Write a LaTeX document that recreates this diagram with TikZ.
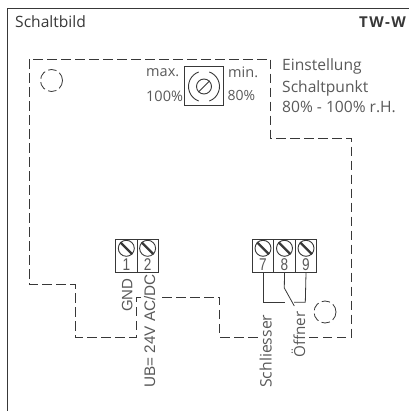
\documentclass[tikz,border=0pt]{standalone}
\usepackage{fontspec}
\setmainfont{Open Sans}
\newfontfamily\arialf{Liberation Sans}
\newfontfamily\twfont[LetterSpace=9]{Open Sans}
\definecolor{txt}{gray}{0.35}
\definecolor{ln}{gray}{0.22}
\tikzset{x=1pt,y=-1pt,
 dashline/.style={draw=ln,line width=0.8pt,dash pattern=on 9.5pt off 4.5pt},
 solidline/.style={draw=ln,line width=0.8pt},
 din/.style={font=\fontsize{15.6}{17}\selectfont,text=txt,inner sep=0pt,anchor=base west},
 rot/.style={font=\arialf\fontsize{15}{17}\selectfont,text=txt,inner sep=0pt,rotate=90,anchor=base west},
 rotb/.style={font=\fontsize{15.8}{17}\selectfont,text=txt,inner sep=0pt,rotate=90,anchor=base west},
 num/.style={font=\arialf\fontsize{17}{18}\selectfont,text=txt,inner sep=0pt,anchor=base,xscale=.8},
 screw/.style={draw=ln,line width=0.9pt,circle,minimum size=16pt,inner sep=0pt},
 cell/.style={draw=ln,line width=0.9pt,minimum width=21.3pt,minimum height=33pt,inner sep=0pt}}
\newcommand{\termcell}[4]{%
 \node[cell] (#1) at (#2,#3) {};
 \node[screw] (#1s) at (#2,#3-7.5) {};
 \draw[ln,line width=2.4pt] (#1s.north west) -- (#1s.south east);
 \node[num] (#1n) at (#2,#3+14.8) {#4};}
\begin{document}
\begin{tikzpicture}
\useasboundingbox (0,0) rectangle (409,411);
\draw[ln,line width=0.9pt] (7,411) -- (7,8.5) -- (409,8.5);
\node[din,text=ln] (title) at (15,27.5) {Schaltbild};
\node[din,font=\twfont\bfseries\fontsize{15}{17}\selectfont,anchor=base east,text=ln] (tw) at (406,27.7) {TW-W};
\coordinate (gndend) at (141,297.3);
\coordinate (ubstart) at (162,297.3);
\coordinate (schl) at (258,337);
\coordinate (oeff) at (308,337);
\draw[dashline] (gndend) -- (136.5,297.3) -- (136.5,337) -- (75,337) -- (75,284) -- (29,284) -- (29,59) -- (270.7,59) -- (270.7,138) -- (351.7,138) -- (351.7,337) -- (oeff);
\draw[dashline] (ubstart) -- (219.5,297.3) -- (219.5,337) -- (schl);
\node[circle,dashline,dash pattern=on 8.5pt off 3.5pt,minimum size=22pt,inner sep=0pt] (c1) at (51.5,80.5) {};
\node[circle,dashline,dash pattern=on 8.5pt off 3.5pt,minimum size=22pt,inner sep=0pt] (c2) at (325,312) {};
% potentiometer
\node[draw=ln,line width=0.9pt,minimum width=39pt,minimum height=38.5pt,inner sep=0pt] (pot) at (203.8,86) {};
\node[circle,draw=ln,line width=0.9pt,minimum size=15pt,inner sep=0pt] (knob) at (204,86.5) {};
\draw[ln,line width=0.9pt] (knob.south west) -- (knob.north east);
\draw[ln,line width=0.9pt] (knob.center) ++(-110:15.5) arc[start angle=-110,end angle=-250,radius=15.5];
\draw[ln,line width=0.9pt] (knob.center) ++(-70:15.5) arc[start angle=-70,end angle=70,radius=15.5];
\node[din,font=\fontsize{14.5}{16}\selectfont] (mx) at (146,77) {max.};
\node[din,font=\fontsize{14.5}{16}\selectfont] (pc1) at (146,101.5) {100\%};
\node[din,font=\fontsize{14.5}{16}\selectfont] (mn) at (228,77.5) {min.};
\node[din,font=\fontsize{14}{16}\selectfont] (pc2) at (227.5,101) {80\%};
\node[din] (e1) at (282,70.7) {Einstellung};
\node[din] (e2) at (282,92.3) {Schaltpunkt};
\node[din] (e3) at (282,112.3) {80\% - 100\% r.H.};
% terminals
\termcell{ta}{126.3}{255.8}{1}
\termcell{tb}{147.6}{255.8}{2}
\termcell{tc}{263}{255.8}{7}
\termcell{td}{284.5}{255.8}{8}
\termcell{te}{306}{255.8}{9}
\draw[solidline] (tc.south) -- (263,302.3) -- (285,302.3);
\draw[solidline] (te.south) -- (305.3,302.3) -- (294,302.3);
\draw[solidline] (td.south) -- (284.3,288) -- (294.3,306);
\node[rot] (gnd) at (132.3,312) {GND};
\node[rot,font=\arialf\fontsize{15.3}{17}\selectfont] (ub) at (155,388) {UB= 24V AC/DC};
\node[rotb] (sc) at (271.7,388) {Schliesser};
\node[rotb,font=\fontsize{15.2}{17}\selectfont] (of) at (305,357.7) {Öffner};
\end{tikzpicture}
\end{document}
